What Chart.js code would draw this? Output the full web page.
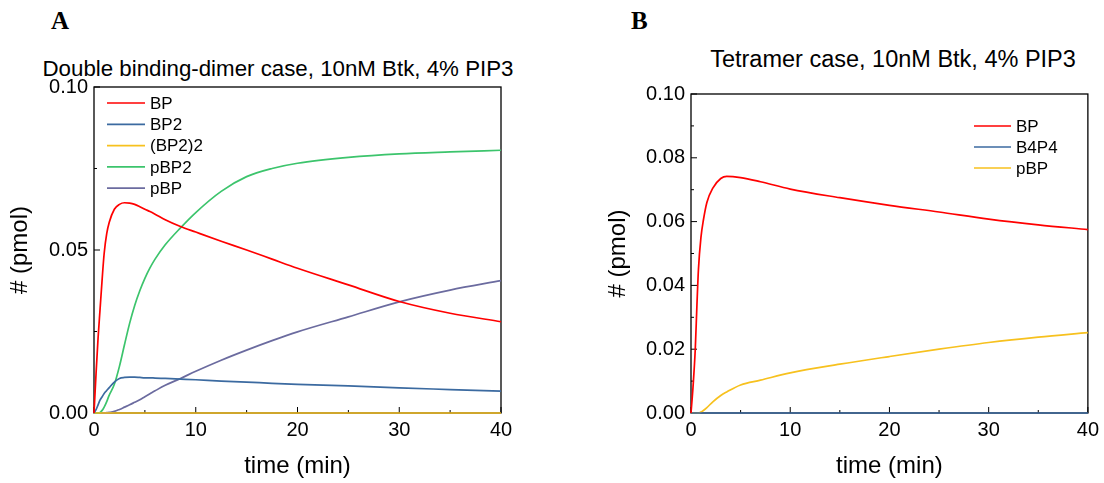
<!DOCTYPE html>
<html>
<head>
<meta charset="utf-8">
<script src="https://cdn.jsdelivr.net/npm/chart.js@4.4.0/dist/chart.umd.min.js"></script>
<style>
  body { margin: 0; background: #fff; width: 1104px; height: 483px; position: relative; overflow: hidden; font-family: "Liberation Sans", Arial, sans-serif; }
  .box { position: absolute; top: 0; height: 483px; }
  .letter { position: absolute; font-family: "Liberation Serif", "Times New Roman", serif; font-weight: bold; font-size: 25px; color: #000; }
  .title { position: absolute; color: #000; white-space: nowrap; transform: translateX(-50%); }
</style>
</head>
<body>
<div class="letter" style="left:51px; top:7px;">A</div>
<div class="letter" style="left:631px; top:7px;">B</div>
<div class="title" style="left:278px; top:56px; font-size:22.3px;">Double binding-dimer case, 10nM Btk, 4% PIP3</div>
<div class="title" style="left:893px; top:46px; font-size:23.5px;">Tetramer case, 10nM Btk, 4% PIP3</div>
<div class="box" style="left:0; width:552px;"><canvas id="chartA"></canvas></div>
<div class="box" style="left:590px; width:514px;"><canvas id="chartB"></canvas></div>
<script>
// panel A: double binding-dimer case
const timeA = [0, 0.2, 0.4, 0.6, 0.8, 1, 1.25, 1.5, 2, 2.5, 3, 3.5, 4, 4.5, 5, 5.5, 6, 7, 8.5, 10, 12.5, 15, 17.5, 20, 25, 30, 35, 40];
const bpA   = [0, 0.012, 0.023, 0.032, 0.041, 0.049, 0.055, 0.0585, 0.0625, 0.064, 0.0645, 0.0644, 0.064, 0.0633, 0.0625, 0.0618, 0.061, 0.0593, 0.0572, 0.0555, 0.0527, 0.050, 0.0472, 0.0444, 0.0393, 0.0342, 0.0306, 0.028];
const bp2A  = [0, 0.001, 0.0025, 0.004, 0.005, 0.006, 0.0069, 0.0078, 0.0095, 0.0106, 0.0109, 0.011, 0.011, 0.0109, 0.0108, 0.0108, 0.0107, 0.0106, 0.0104, 0.0102, 0.0098, 0.0095, 0.0091, 0.0088, 0.0083, 0.0077, 0.0072, 0.0067];
const bp22A = [0, 0, 0, 0, 0, 0, 0, 0, 0, 0, 0, 0, 0, 0, 0, 0, 0, 0, 0, 0, 0, 0, 0, 0, 0, 0, 0, 0];
const pbp2A = [0, 0, 0, 0.0002, 0.0008, 0.0018, 0.0035, 0.0055, 0.0088, 0.0143, 0.021, 0.0275, 0.033, 0.0375, 0.0413, 0.0445, 0.0472, 0.0516, 0.0568, 0.0615, 0.068, 0.0725, 0.075, 0.0766, 0.0784, 0.0795, 0.0801, 0.0806];
const pbpA  = [0, 0, 0, 0, 0, 0, 0.0001, 0.0002, 0.0005, 0.0011, 0.0018, 0.0025, 0.0033, 0.0041, 0.005, 0.0059, 0.0068, 0.0085, 0.0106, 0.0128, 0.0162, 0.0193, 0.0222, 0.0249, 0.0295, 0.0341, 0.0377, 0.0406];

// panel B: tetramer case
const timeB = [0, 0.2, 0.43, 0.6, 0.75, 1, 1.25, 1.6, 2.2, 3, 3.6, 5, 7, 10, 15, 20, 25, 30, 35, 40];
const bpB   = [0, 0.008, 0.02, 0.034, 0.045, 0.055, 0.0605, 0.066, 0.0705, 0.0735, 0.0742, 0.0738, 0.0725, 0.0702, 0.0675, 0.0651, 0.063, 0.0608, 0.059, 0.0575];
const b4p4B = [0, 0, 0, 0, 0, 0, 0, 0, 0, 0, 0, 0, 0, 0, 0, 0, 0, 0, 0, 0];
const pbpB  = [0, 0, 0, 0, 0, 0.0003, 0.0008, 0.0017, 0.0035, 0.0055, 0.0066, 0.0088, 0.0103, 0.0126, 0.0153, 0.0177, 0.02, 0.0221, 0.0238, 0.0252];

const xTicks = [0, 10, 20, 30, 40];
const yTicksA = [0, 0.05, 0.1];
const yTicksB = [0, 0.02, 0.04, 0.06, 0.08, 0.1];

const RED = '#ff0000', BLUE = '#3b6aa0', YELLOW = '#f7c11e', GREEN = '#3cc46c', PURPLE = '#6b6b9f';
const FONT = '"Liberation Sans", Arial, sans-serif';

const pts = (t, v) => t.map((x, i) => ({ x: x, y: v[i] }));
const ds = (label, t, v, color) => ({
  label, data: pts(t, v), borderColor: color, backgroundColor: color,
  borderWidth: 1.7, pointRadius: 0, cubicInterpolationMode: 'monotone', clip: 4
});

// frame box + inward ticks + legend inside the plot
const framePlugin = {
  id: 'frame',
  beforeDatasetsDraw(chart, args, opts) {
    const { ctx, chartArea: a } = chart;
    ctx.save();
    ctx.strokeStyle = '#000';
    ctx.lineWidth = 1.3;
    ctx.strokeRect(a.left, a.top, a.right - a.left, a.bottom - a.top);
    const xs = chart.scales.x, ys = chart.scales.y;
    ctx.lineWidth = 1;
    ctx.beginPath();
    for (let v = xs.min; v <= xs.max + 1e-9; v += opts.xMinor) {
      const len = Math.abs(v / opts.xMajor - Math.round(v / opts.xMajor)) < 1e-6 ? 6 : 3;
      const px = xs.getPixelForValue(v);
      ctx.moveTo(px, a.bottom); ctx.lineTo(px, a.bottom - len);
    }
    for (let v = ys.min; v <= ys.max + 1e-9; v += opts.yMinor) {
      const len = Math.abs(v / opts.yMajor - Math.round(v / opts.yMajor)) < 1e-6 ? 6 : 3;
      const py = ys.getPixelForValue(v);
      ctx.moveTo(a.left, py); ctx.lineTo(a.left + len, py);
    }
    ctx.stroke();
    ctx.restore();
  },
  afterDraw(chart, args, opts) {
    const { ctx, chartArea: a } = chart;
    ctx.save();
    ctx.font = '17px ' + FONT;
    ctx.textBaseline = 'middle';
    chart.data.datasets.forEach((d, i) => {
      const y = a.top + opts.legTop + i * opts.legGap;
      const x0 = a.left + opts.legLeft;
      ctx.strokeStyle = d.borderColor;
      ctx.lineWidth = 1.7;
      ctx.beginPath(); ctx.moveTo(x0, y); ctx.lineTo(x0 + opts.legLine, y); ctx.stroke();
      ctx.fillStyle = '#000';
      ctx.fillText(d.label, x0 + opts.legLine + 5, y + 1);
    });
    ctx.restore();
  }
};

function makeChart(id, datasets, yMax, yTickVals, pad, titlePad, frame) {
  return new Chart(document.getElementById(id), {
    type: 'line',
    data: { datasets },
    plugins: [framePlugin],
    options: {
      responsive: true,
      maintainAspectRatio: false,
      animation: false,
      layout: { padding: pad },
      plugins: { legend: { display: false }, tooltip: { enabled: false }, frame },
      scales: {
        x: {
          type: 'linear', min: 0, max: 40,
          afterFit: s => { s.height = 70; },
          afterBuildTicks: s => { s.ticks = xTicks.map(v => ({ value: v })); },
          grid: { display: false, drawTicks: false }, border: { display: false },
          ticks: { color: '#000', padding: 5, maxRotation: 0, font: { family: FONT, size: 20 } },
          title: { display: true, text: 'time (min)', color: '#000', padding: { top: 2, bottom: 2 }, font: { family: FONT, size: 24 } }
        },
        y: {
          type: 'linear', min: 0, max: yMax,
          afterFit: s => { s.width = pad.yWidth; },
          afterBuildTicks: s => { s.ticks = yTickVals.map(v => ({ value: v })); },
          grid: { display: false, drawTicks: false }, border: { display: false },
          ticks: { color: '#000', padding: 6, font: { family: FONT, size: 20 }, callback: v => v.toFixed(2) },
          title: { display: true, text: '# (pmol)', color: '#000', padding: { top: titlePad, bottom: 2 }, font: { family: FONT, size: 24 } }
        }
      }
    }
  });
}

makeChart('chartA', [
  ds('BP', timeA, bpA, RED),
  ds('BP2', timeA, bp2A, BLUE),
  ds('(BP2)2', timeA, bp22A, YELLOW),
  ds('pBP2', timeA, pbp2A, GREEN),
  ds('pBP', timeA, pbpA, PURPLE)
], 0.1, yTicksA,
  { left: 0, top: 87, right: 51, bottom: 0, yWidth: 94 }, 6,
  { xMajor: 10, xMinor: 5, yMajor: 0.05, yMinor: 0.025, legTop: 16, legLeft: 13, legLine: 38, legGap: 21.3 });

makeChart('chartB', [
  ds('BP', timeB, bpB, RED),
  ds('B4P4', timeB, b4p4B, BLUE),
  ds('pBP', timeB, pbpB, YELLOW)
], 0.1, yTicksB,
  { left: 0, top: 94, right: 11, bottom: 0, yWidth: 101 }, 14,
  { xMajor: 10, xMinor: 5, yMajor: 0.02, yMinor: 0.01, legTop: 32, legLeft: 283, legLine: 37, legGap: 21 });
</script>
</body>
</html>
